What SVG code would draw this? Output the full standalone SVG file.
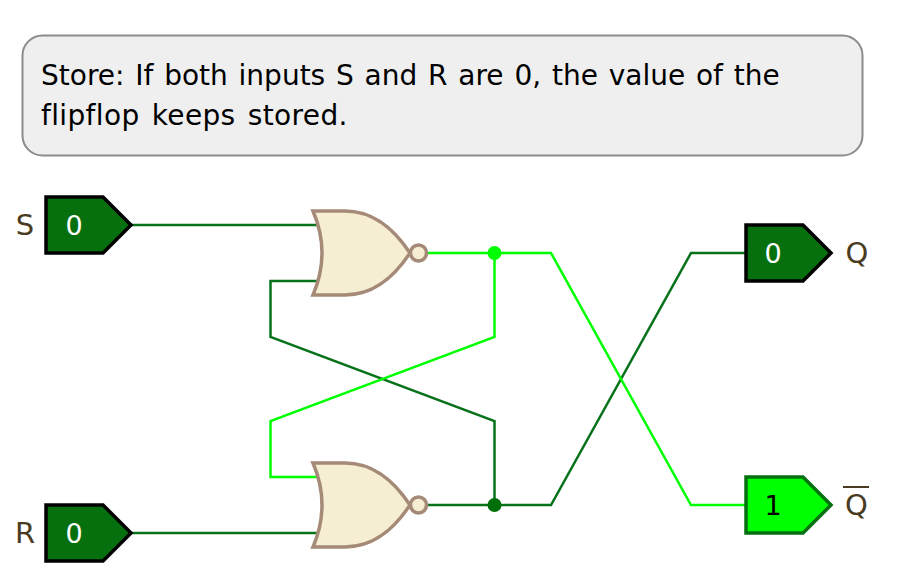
<svg xmlns="http://www.w3.org/2000/svg" width="910" height="588" viewBox="0 0 910 588">
<style>
text{font-family:"DejaVu Sans","Liberation Sans",sans-serif;font-variant-ligatures:none}
.wire{fill:none;stroke-width:2.5;stroke-linejoin:miter}
.low{stroke:#08721a}
.high{stroke:#00ff00}
.gate{fill:#f5eed3;stroke:#a58a78;stroke-width:3.500;stroke-linejoin:miter}
.pin0{fill:#06700e;stroke:#000;stroke-width:3.500}
.pin1{fill:#00ff00;stroke:#067010;stroke-width:3.500}
.val{font-size:27px;text-anchor:middle}
.lab{font-size:29px;fill:#4a3c22;text-anchor:middle}
.msg{font-size:28px;fill:#000;word-spacing:1.900px}
.msg2{letter-spacing:.35px;word-spacing:3px}
</style>
<defs>
<path id="pin" d="M46 197H103L131 225L103 253H46Z"/>
<g id="nor">
<path class="gate" d="M313 211H345C374 211 394 229 410 253C394 277 374 295 345 295H313Q331 253 313 211Z"/>
<circle class="gate" cx="418.500" cy="253" r="8"/>
</g>
</defs>
<g id="message">
<rect x="22.500" y="35.500" width="840" height="120" rx="20" fill="#efefef" stroke="#8c8c8c" stroke-width="2"/>
<text class="msg" x="41" y="85">Store: If both inputs S and R are 0, the value of the</text>
<text class="msg msg2" x="41" y="125">flipflop keeps stored.</text>
</g>
<g id="connectors">
<path class="wire low" d="M131 225H320"/>
<path class="wire low" d="M131 533H320"/>
<path class="wire low" d="M320 281H270.500V337L494.500 421V505"/>
<path class="wire low" d="M427 505H551L691 253H746"/>
<path class="wire high" d="M427 253H551L691 505H746"/>
<path class="wire high" d="M494.500 253V337L270.500 421V477H320"/>
<circle cx="494.500" cy="253" r="7" fill="#00ff00"/>
<circle cx="494.500" cy="505" r="7" fill="#006f0a"/>
</g>
<g id="S"><use href="#pin" class="pin0"/><text class="val" x="74" y="235" fill="#fff">0</text><text class="lab" x="25" y="235">S</text></g>
<g id="R"><use href="#pin" class="pin0" y="308"/><text class="val" x="74" y="543" fill="#fff">0</text><text class="lab" x="25" y="543">R</text></g>
<g id="nor1"><use href="#nor"/></g>
<g id="nor2"><use href="#nor" y="252"/></g>
<g id="Q"><use href="#pin" class="pin0" x="700" y="28"/><text class="val" x="773" y="263" fill="#fff">0</text><text class="lab" x="857" y="263">Q</text></g>
<g id="Qbar"><use href="#pin" class="pin1" x="700" y="280"/><text class="val" x="773" y="515" fill="#000">1</text><text class="lab" x="856.500" y="515">Q</text><line x1="843" y1="487" x2="869" y2="487" stroke="#4a3c22" stroke-width="2"/></g>
</svg>
